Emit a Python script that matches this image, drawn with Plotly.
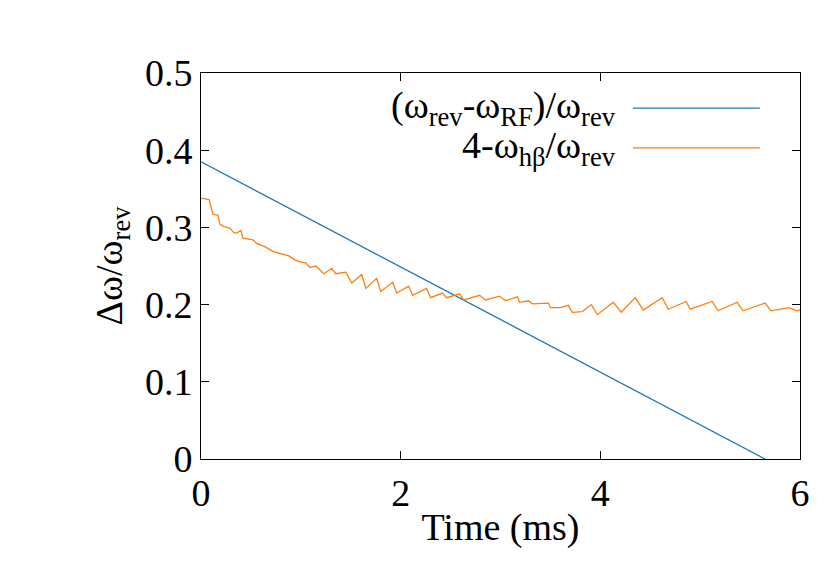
import plotly.graph_objects as go

# blue: linear detuning
blue_t = [0.0, 5.65]
blue_v = [0.385, 0.0]

# orange: tune readout
orange_t = [0.0, 0.08, 0.12, 0.17, 0.19, 0.23, 0.29, 0.33, 0.36, 0.40, 0.42, 0.46, 0.52, 0.56,
            0.64, 0.72, 0.80, 0.88, 0.94, 1.00, 1.05, 1.09, 1.15, 1.19, 1.23, 1.31, 1.35, 1.45,
            1.51, 1.61, 1.65, 1.76, 1.80, 1.92, 1.96, 2.08, 2.12, 2.26, 2.30, 2.42, 2.46, 2.59,
            2.63, 2.79, 2.85, 2.99, 3.05, 3.17, 3.19, 3.28, 3.32, 3.48, 3.50, 3.60, 3.68, 3.72,
            3.82, 3.91, 3.97, 4.13, 4.21, 4.35, 4.43, 4.62, 4.68, 4.86, 4.90, 5.12, 5.18, 5.37,
            5.43, 5.65, 5.71, 5.89, 5.97, 6.0]
orange_v = [0.338, 0.336, 0.317, 0.316, 0.304, 0.301, 0.299, 0.293, 0.293, 0.296, 0.286, 0.285,
            0.284, 0.279, 0.275, 0.269, 0.266, 0.263, 0.258, 0.255, 0.254, 0.248, 0.250, 0.245,
            0.240, 0.247, 0.240, 0.242, 0.228, 0.239, 0.221, 0.234, 0.217, 0.229, 0.215, 0.224,
            0.212, 0.221, 0.209, 0.215, 0.209, 0.214, 0.206, 0.212, 0.206, 0.211, 0.205, 0.210,
            0.203, 0.205, 0.201, 0.202, 0.196, 0.196, 0.199, 0.190, 0.191, 0.200, 0.187, 0.203,
            0.190, 0.209, 0.193, 0.209, 0.194, 0.204, 0.194, 0.204, 0.192, 0.203, 0.192, 0.202,
            0.192, 0.196, 0.192, 0.193]

labels = ["(ω<sub>rev</sub>-ω<sub>RF</sub>)/ω<sub>rev</sub>", "4-ω<sub>hβ</sub>/ω<sub>rev</sub>"]
colors = ["#1f77b4", "#ff7f0e"]

fnt = dict(family="Liberation Serif", size=38, color="black")

fig = go.Figure()
fig.add_trace(go.Scatter(x=blue_t, y=blue_v, mode="lines", line=dict(color=colors[0], width=1.3)))
fig.add_trace(go.Scatter(x=orange_t, y=orange_v, mode="lines", line=dict(color=colors[1], width=1.3)))

# legend drawn by hand (gnuplot style: text then sample line)
for i, (lab, yy) in enumerate(zip(labels, [0.909, 0.806])):
    fig.add_annotation(x=0.696, y=yy, xref="paper", yref="paper", text=lab, showarrow=False,
                       xanchor="right", yanchor="middle", font=fnt)
    fig.add_shape(type="line", xref="paper", yref="paper", x0=0.721, x1=0.933, y0=yy, y1=yy,
                  line=dict(color=colors[i], width=1.3))

ax = dict(showline=True, linecolor="black", linewidth=1, mirror="ticks", ticks="inside",
          ticklen=8, tickcolor="black", showgrid=False, zeroline=False, tickfont=fnt, automargin=False)
fig.update_xaxes(range=[0, 6], tickvals=[0, 2, 4, 6], title=dict(text="Time (ms)", font=fnt, standoff=0), **ax)
fig.update_yaxes(range=[0, 0.5], tickvals=[0, 0.1, 0.2, 0.3, 0.4, 0.5],
                 ticktext=["0", "0.1", "0.2", "0.3", "0.4", "0.5"],
                 title=dict(text="Δω/ω<sub>rev</sub>", font=fnt, standoff=10), **ax)
fig.update_layout(width=830, height=581, showlegend=False, plot_bgcolor="white", paper_bgcolor="white",
                  margin=dict(l=193, r=38, t=65, b=130), font=fnt)
fig.write_html("out.html")
